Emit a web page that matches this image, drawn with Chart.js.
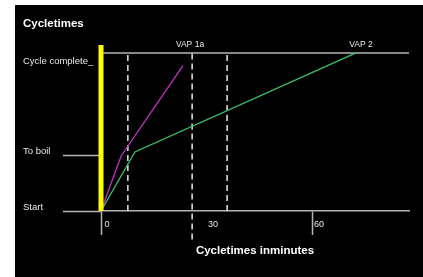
<!DOCTYPE html>
<html>
<head>
<meta charset="utf-8">
<script src="https://cdn.jsdelivr.net/npm/chart.js@4"></script>
<style>
    html, body { margin: 0; padding: 0; background: #ffffff; }
    #cycleChart { position: absolute; left: 15px; top: 5px; background: #000000; }
</style>
</head>
<body>
<canvas id="cycleChart" width="408" height="272"></canvas>
<script>
/* ================= DATA ================= */
const timeTicks = [0, 30, 60];
const timeLabels = ["0", "30", "60"];
const stageTicks = [0, 35, 92];
const stageLabels = ["Start", "To boil", "Cycle complete_"];

const vap1X = [0, 5.7, 23.2];
const vap1Y = [0, 34.8, 92];
const vap2X = [0, 9.6, 72.2];
const vap2Y = [0, 37.3, 100];

const markerX = [7.6, 25.8, 35.7];
const markerBottom = [0, -18, 0];
const completeLevel = 100;

const vapNames = ["VAP 1a", "VAP 2"];
const vapLabelX = [25.2, 73.6];

const GRAY = "#b4b4b4";
const TEXT = "#e8e8e8";
const FONT = "'Liberation Sans', Arial, sans-serif";

function pts(xs, ys) {
    return xs.map((x, i) => ({ x: x, y: ys[i] }));
}

/* ---- dashed marker lines ---- */
const markerSets = markerX.map((x, i) => ({
    data: [{ x: x, y: markerBottom[i] }, { x: x, y: completeLevel }],
    borderColor: "#e6e6e6",
    borderWidth: 1.5,
    borderDash: [6, 4],
    pointRadius: 0,
    clip: false
}));

/* ---- VAP labels plugin ---- */
const vapLabels = {
    id: "vapLabels",
    afterDatasetsDraw(chart) {
        const { ctx, scales: { x, y } } = chart;
        ctx.save();
        ctx.fillStyle = TEXT;
        ctx.font = "8.5px " + FONT;
        ctx.textAlign = "center";
        ctx.textBaseline = "middle";
        vapNames.forEach((name, i) => {
            ctx.fillText(name, x.getPixelForValue(vapLabelX[i]), y.getPixelForValue(completeLevel) - 8);
        });
        ctx.restore();
    }
};

/* ================= CHART ================= */
new Chart(document.getElementById("cycleChart").getContext("2d"), {
    type: "line",
    data: {
        datasets: [
            {
                data: [{ x: 0, y: 0 }, { x: 0, y: 105 }],
                borderColor: "#ffff00",
                borderWidth: 5,
                pointRadius: 0,
                clip: false
            },
            {
                data: pts(vap1X, vap1Y),
                borderColor: "#c030c8",
                borderWidth: 1.3,
                pointRadius: 0
            },
            {
                data: pts(vap2X, vap2Y),
                borderColor: "#38c070",
                borderWidth: 1.3,
                pointRadius: 0
            },
            ...markerSets,
            {
                data: [{ x: 0, y: completeLevel }, { x: 87.2, y: completeLevel }],
                borderColor: GRAY,
                borderWidth: 1.5,
                pointRadius: 0,
                clip: false
            }
        ]
    },
    options: {
        responsive: false,
        animation: false,
        layout: { padding: { left: 8, right: 14, top: 0, bottom: 0 } },
        plugins: {
            legend: { display: false },
            tooltip: { enabled: false },
            title: {
                display: true,
                text: "Cycletimes",
                align: "start",
                color: "#ffffff",
                font: { family: FONT, size: 11.5, weight: "bold" },
                padding: { top: 12, bottom: 14.2 }
            }
        },
        scales: {
            x: {
                type: "linear",
                min: 0,
                max: 87.2,
                afterBuildTicks: s => { s.ticks = timeTicks.map(v => ({ value: v })); },
                afterFit: s => { s.height = 66; },
                ticks: {
                    color: TEXT,
                    font: { family: FONT, size: 9 },
                    padding: -16,
                    labelOffset: 6,
                    maxRotation: 0,
                    callback: (v, i) => timeLabels[i]
                },
                grid: {
                    drawOnChartArea: false,
                    tickLength: 24,
                    tickWidth: 1.5,
                    tickColor: c => c.index === 1 ? "transparent" : GRAY
                },
                border: { color: GRAY, width: 1.5 },
                title: {
                    display: true,
                    text: "Cycletimes inminutes",
                    color: "#ffffff",
                    font: { family: FONT, size: 11.5, weight: "bold" },
                    padding: { top: 0, bottom: 19 }
                }
            },
            y: {
                type: "linear",
                min: 0,
                max: 105,
                afterBuildTicks: s => { s.ticks = stageTicks.map(v => ({ value: v })); },
                afterFit: s => { s.width = 78; },
                ticks: {
                    color: TEXT,
                    font: { family: FONT, size: 9.5 },
                    crossAlign: "far",
                    labelOffset: -4,
                    callback: (v, i) => stageLabels[i]
                },
                grid: {
                    drawOnChartArea: false,
                    tickLength: 38,
                    tickWidth: 1.5,
                    tickColor: c => c.index === 2 ? "transparent" : GRAY
                },
                border: { display: false }
            }
        }
    },
    plugins: [vapLabels]
});
</script>
</body>
</html>
